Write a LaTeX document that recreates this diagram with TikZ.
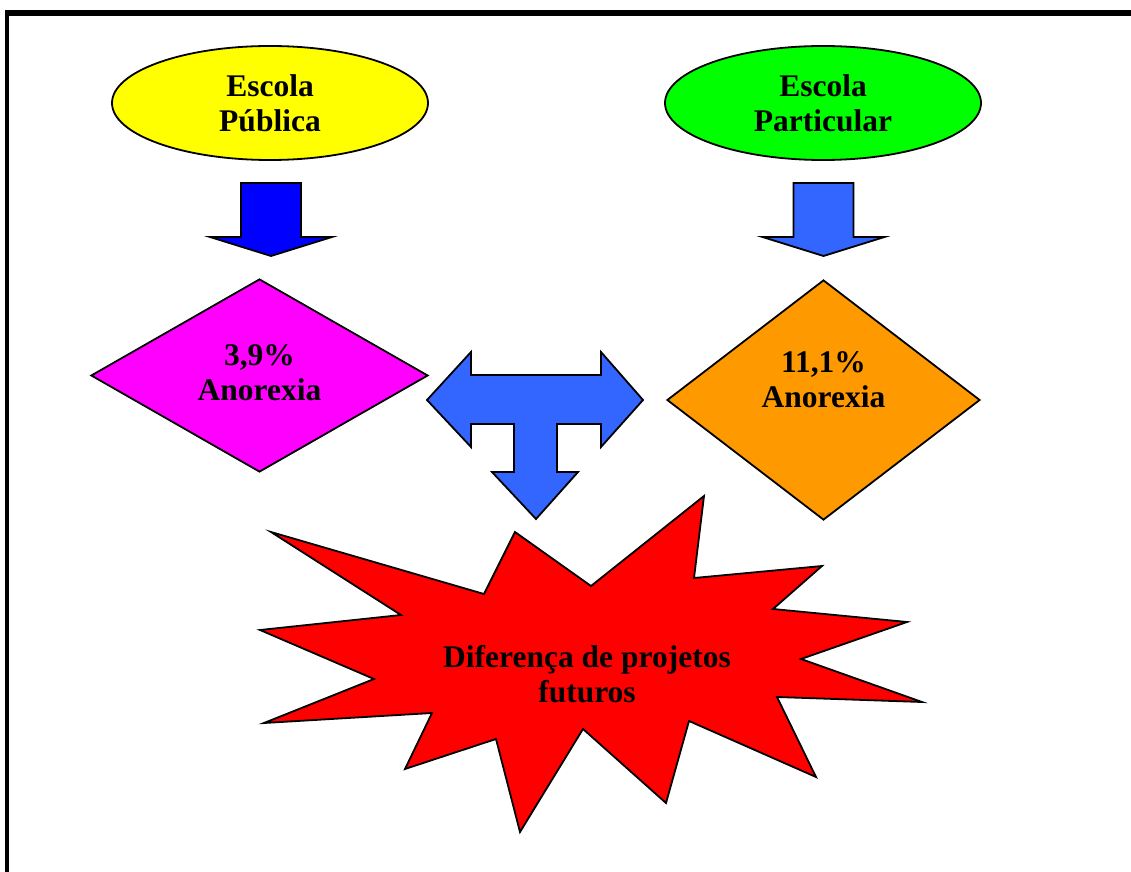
\documentclass[tikz,border=0pt]{standalone}
\usepackage{fontspec}
\setmainfont{Liberation Serif}
\usetikzlibrary{shapes.geometric}
\definecolor{pubyellow}{RGB}{255,255,0}
\definecolor{partgreen}{RGB}{0,255,0}
\definecolor{pubmagenta}{RGB}{255,0,255}
\definecolor{partorange}{RGB}{255,153,0}
\definecolor{pubblue}{RGB}{0,0,255}
\definecolor{partblue}{RGB}{51,102,255}
\definecolor{burstred}{RGB}{255,0,0}
\tikzset{
  shape line/.style={draw=black, line width=0.9pt, line join=miter},
  label text/.style={font=\bfseries\fontsize{15.75}{17.5}\selectfont, align=center},
  school/.style={ellipse, shape line, inner sep=0pt, minimum width=158pt, minimum height=57pt, label text},
  rate/.style={diamond, shape line, inner sep=0pt},
}

\begin{document}
\begin{tikzpicture}[x=0.5pt, y=-0.5pt]
\useasboundingbox (0,0) rectangle (1131,872);
% frame
\draw[line width=3pt] (5,13) -- (1131,13);
\draw[line width=2pt] (7,10) -- (7,872);
% schools
\node[school, fill=pubyellow] (publica) at (270,103) {Escola\\Pública};
\node[school, fill=partgreen] (particular) at (823,103) {Escola\\Particular};
% down arrows
\foreach \cx/\col in {271/pubblue, 823.5/partblue} {
	\draw[shape line, fill=\col] (\cx-30,183) -- (\cx+30,183) -- (\cx+30,237) -- (\cx+61,237)
		-- (\cx,256) -- (\cx-61,237) -- (\cx-30,237) -- cycle;
	};
% rates
\node[rate, fill=pubmagenta, minimum width=168.5pt, minimum height=96.5pt] (pubrate) at (259.5,375.5) {};
\node[rate, fill=partorange, minimum width=156.5pt, minimum height=120pt] (partrate) at (823.5,400) {};
\node[label text] (pubtext) at (259.5,373) {3,9\%\\Anorexia};
\node[label text] (parttext) at (823.5,380) {11,1\%\\Anorexia};
% T arrow
\draw[shape line, fill=partblue] (427,400) -- (471,352) -- (471,375) -- (601,375) -- (601,352)
	-- (643,400) -- (601,447) -- (601,424) -- (557,424) -- (557,472) -- (578,472) -- (536,519)
	-- (492,472) -- (514,472) -- (514,424) -- (471,424) -- (471,447) -- cycle;
% burst
\draw[shape line, fill=burstred] (271,532) -- (401,615) -- (260,630) -- (374,679) -- (264,723)
	-- (432,713) -- (405,769) -- (496,739) -- (520,832) -- (583,729) -- (666,803) -- (689,721)
	-- (816,777) -- (777,697) -- (922,702) -- (801,659) -- (907,622) -- (773,609) -- (822,566)
	-- (694,578) -- (704,496) -- (591,586) -- (515,532) -- (484,594) -- cycle;
\node[label text] (projetos) at (587,674) {Diferença de projetos\\futuros};
\end{tikzpicture}
\end{document}
